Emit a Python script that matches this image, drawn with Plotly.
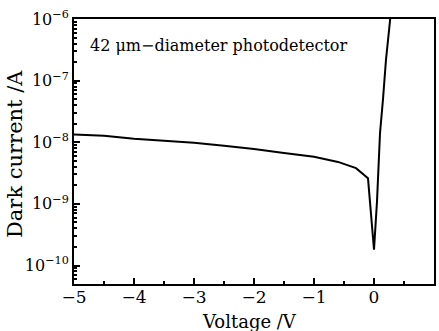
import plotly.graph_objects as go

voltage = [-5.0, -4.5, -4.0, -3.5, -3.0, -2.5, -2.0, -1.5, -1.0, -0.6, -0.3, -0.1,
           0.0, 0.05, 0.1, 0.15, 0.2, 0.27]
current = [1.33e-8, 1.28e-8, 1.14e-8, 1.06e-8, 9.8e-9, 8.8e-9, 7.8e-9, 6.7e-9, 5.8e-9,
           4.8e-9, 3.8e-9, 2.6e-9,
           1.8e-10, 1.1e-9, 1.4e-8, 5.0e-8, 2.2e-7, 1.0e-6]

y_tickvals = [1e-10, 1e-9, 1e-8, 1e-7, 1e-6]
y_ticktext = ["10<sup>−10</sup>", "10<sup>−9</sup>", "10<sup>−8</sup>", "10<sup>−7</sup>", "10<sup>−6</sup>"]
x_tickvals = [-5, -4, -3, -2, -1, 0, 1]
x_ticktext = ["−5", "−4", "−3", "−2", "−1", "0", "1"]

FONT = "DejaVu Serif"
L, R, T, B = 74, 5, 19, 47
W, H = 439, 331
PW, PH = W - L - R, H - T - B

fig = go.Figure()
fig.add_trace(go.Scatter(x=voltage, y=current, mode="lines",
                         line=dict(color="black", width=2), showlegend=False))

fig.update_layout(
    width=W, height=H,
    margin=dict(l=L, r=R, t=T, b=B),
    paper_bgcolor="white", plot_bgcolor="white",
    font=dict(family=FONT, size=16, color="black"),
    xaxis=dict(range=[-5, 1], tickvals=x_tickvals, ticktext=x_ticktext,
               ticks="inside", ticklen=6, tickwidth=1.5, tickcolor="black",
               showline=True, linecolor="black", linewidth=2, mirror=True,
               showgrid=False, zeroline=False, ticklabelstandoff=-3, automargin=False,
               minor=dict(ticks="inside", ticklen=3, dtick=0.5, tickcolor="black"),
               tickfont=dict(size=17)),
    yaxis=dict(type="log", range=[-10.3, -6], tickvals=y_tickvals, ticktext=y_ticktext,
               ticks="inside", ticklen=6, tickwidth=1.5, tickcolor="black",
               showline=True, linecolor="black", linewidth=2, mirror=True,
               showgrid=False, zeroline=False, automargin=False,
               minor=dict(ticks="inside", ticklen=3, dtick="D1", tickcolor="black"),
               tickfont=dict(size=16)),
    annotations=[
        dict(text="42 μm−diameter photodetector", xref="paper", yref="paper",
             x=(88 - L) / PW, y=1 - (46 - T) / PH, xanchor="left", yanchor="middle",
             showarrow=False, font=dict(size=16, family=FONT)),
        dict(text="Voltage /V", xref="paper", yref="paper",
             x=(249 - L) / PW, y=1 - (321 - T) / PH, xanchor="center", yanchor="middle",
             showarrow=False, font=dict(size=18, family=FONT)),
        dict(text="Dark current /A", xref="paper", yref="paper", textangle=-90,
             x=(15 - L) / PW, y=1 - (154 - T) / PH, xanchor="center", yanchor="middle",
             showarrow=False, font=dict(size=21, family=FONT)),
    ],
)

fig.write_html("out.html", config={"displayModeBar": False},
               post_script="document.body.style.margin='0';document.body.style.overflow='hidden';")
